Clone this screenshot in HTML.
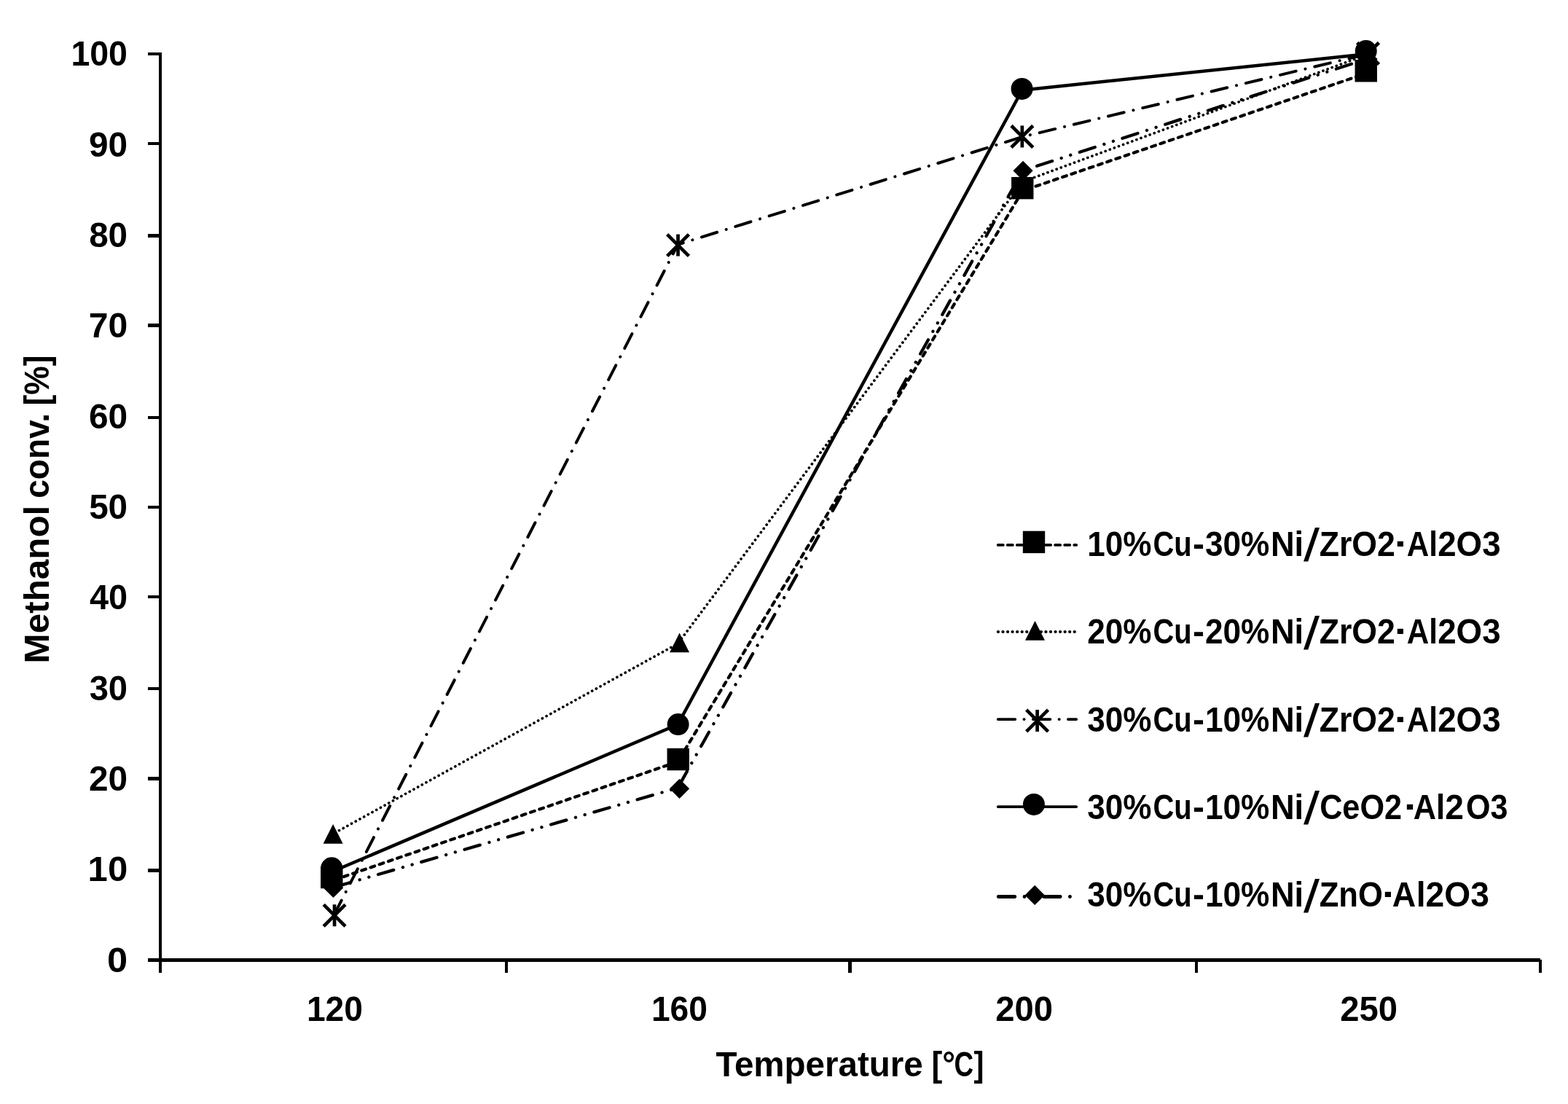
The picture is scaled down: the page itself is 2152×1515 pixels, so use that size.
<!DOCTYPE html>
<html lang="en">
<head>
<meta charset="utf-8">
<title>Methanol conversion vs temperature</title>
<style>
html, body { margin: 0; padding: 0; background: #fff; }
body { width: 2152px; height: 1515px; overflow: hidden; }
svg { display: block; }
text { font-family: "Liberation Sans", sans-serif; font-weight: bold; font-size: 48.0px; fill: #000; }
</style>
</head>
<body>
<svg xmlns="http://www.w3.org/2000/svg" width="2152" height="1515" viewBox="0 0 2152 1515">
<rect width="2152" height="1515" fill="#fff"/>

<g id="axes" fill="#000" shape-rendering="crispEdges">
<rect x="218" y="72" width="4" height="1263"/>
<rect x="203" y="1315" width="1911" height="5"/>
<rect x="203" y="72" width="17" height="4"/>
<rect x="203" y="195" width="17" height="4"/>
<rect x="203" y="321" width="17" height="5"/>
<rect x="203" y="444" width="17" height="5"/>
<rect x="203" y="571" width="17" height="4"/>
<rect x="203" y="694" width="17" height="4"/>
<rect x="203" y="817" width="17" height="4"/>
<rect x="203" y="943" width="17" height="4"/>
<rect x="203" y="1066" width="17" height="5"/>
<rect x="203" y="1192" width="17" height="5"/>
<rect x="693" y="1317" width="4" height="18"/>
<rect x="1164" y="1317" width="5" height="18"/>
<rect x="1640" y="1317" width="4" height="18"/>
<rect x="2112" y="1317" width="4" height="18"/>
</g>
<g id="ylabels">
<text x="147.08" y="1333.7" textLength="28.10" lengthAdjust="spacingAndGlyphs">0</text>
<text x="120.64" y="1209.4" textLength="54.54" lengthAdjust="spacingAndGlyphs">10</text>
<text x="122.03" y="1085.0" textLength="53.09" lengthAdjust="spacingAndGlyphs">20</text>
<text x="122.64" y="960.7" textLength="52.46" lengthAdjust="spacingAndGlyphs">30</text>
<text x="123.00" y="836.3" textLength="52.09" lengthAdjust="spacingAndGlyphs">40</text>
<text x="122.15" y="712.0" textLength="52.96" lengthAdjust="spacingAndGlyphs">50</text>
<text x="121.91" y="587.6" textLength="53.22" lengthAdjust="spacingAndGlyphs">60</text>
<text x="121.66" y="463.2" textLength="53.48" lengthAdjust="spacingAndGlyphs">70</text>
<text x="122.15" y="338.9" textLength="52.96" lengthAdjust="spacingAndGlyphs">80</text>
<text x="122.03" y="214.5" textLength="53.09" lengthAdjust="spacingAndGlyphs">90</text>
<text x="97.39" y="90.2" textLength="77.62" lengthAdjust="spacingAndGlyphs">100</text>
</g>
<g id="xlabels">
<text x="420.91" y="1401.2" textLength="77.03" lengthAdjust="spacingAndGlyphs">120</text>
<text x="893.91" y="1401.2" textLength="77.03" lengthAdjust="spacingAndGlyphs">160</text>
<text x="1366.25" y="1401.2" textLength="78.74" lengthAdjust="spacingAndGlyphs">200</text>
<text x="1839.25" y="1401.2" textLength="78.74" lengthAdjust="spacingAndGlyphs">250</text>
</g>
<text id="xtitle" y="1477.3"><tspan x="982.41" textLength="284.29" lengthAdjust="spacingAndGlyphs">Temperature</tspan> <tspan x="1278.46" textLength="32.55" lengthAdjust="spacingAndGlyphs">[°</tspan><tspan x="1309.53" textLength="26.57" lengthAdjust="spacingAndGlyphs">C</tspan><tspan x="1336.48" textLength="13.95" lengthAdjust="spacingAndGlyphs">]</tspan></text>
<text id="ytitle" transform="translate(67.4 907.1) rotate(-90)" y="0"><tspan x="-3.33" textLength="216.75" lengthAdjust="spacingAndGlyphs">Methanol</tspan> <tspan x="223.26" textLength="116.96" lengthAdjust="spacingAndGlyphs">conv.</tspan> <tspan x="350.66" textLength="68.99" lengthAdjust="spacingAndGlyphs">[%]</tspan></text>
<g id="lines" fill="none" stroke="#000" stroke-linejoin="round" stroke-linecap="round">
<polyline points="459.75,1207.20 930.25,1045.20 1403.75,261.70 1877.25,99.90" stroke-width="4.2" stroke-dasharray="5.90 7.00"/>
<polyline points="459.75,1142.80 930.25,883.30 1403.75,249.30 1877.25,74.50" stroke-width="3.7" stroke-dasharray="0.10 6.40"/>
<polyline points="458.55,1255.30 930.25,335.60 1403.75,187.60 1877.25,74.00" stroke-width="4.0" stroke-dasharray="22.20 13.12 0.10 13.12"/>
<polyline points="459.75,1194.50 930.25,994.20 1402.75,123.70 1877.25,74.00" stroke-width="4.5"/>
<polyline points="459.75,1217.10 930.25,1081.20 1403.75,234.10 1877.25,80.50" stroke-width="4.3" stroke-dasharray="22.10 13.13 0.10 13.13 0.10 13.13"/>
</g>
<g id="markers" fill="#000">
<rect x="440.05" y="1188.79" width="30.4" height="30.4"/>
<rect x="915.55" y="1026.83" width="30.4" height="30.4"/>
<rect x="1388.05" y="242.93" width="30.4" height="30.4"/>
<rect x="1859.55" y="82.07" width="30.4" height="30.4"/>
<polygon points="457.10,1131.01 470.60,1157.81 443.60,1157.81"/>
<polygon points="932.60,868.38 946.10,895.17 919.10,895.17"/>
<polygon points="1404.60,235.69 1418.10,262.49 1391.10,262.49"/>
<polygon points="1876.60,61.60 1890.10,88.40 1863.10,88.40"/>
<g stroke="#000" stroke-width="4.7" fill="none"><line x1="444.15" y1="1241.33" x2="473.95" y2="1271.13"/><line x1="444.15" y1="1271.13" x2="473.95" y2="1241.33"/><line x1="459.05" y1="1241.23" x2="459.05" y2="1271.23"/></g>
<g stroke="#000" stroke-width="4.7" fill="none"><line x1="915.65" y1="321.63" x2="945.45" y2="351.43"/><line x1="915.65" y1="351.43" x2="945.45" y2="321.63"/><line x1="930.55" y1="321.53" x2="930.55" y2="351.53"/></g>
<g stroke="#000" stroke-width="4.7" fill="none"><line x1="1387.95" y1="172.51" x2="1417.75" y2="202.31"/><line x1="1387.95" y1="202.31" x2="1417.75" y2="172.51"/><line x1="1402.85" y1="172.41" x2="1402.85" y2="202.41"/></g>
<g stroke="#000" stroke-width="4.7" fill="none"><line x1="1862.65" y1="58.50" x2="1892.45" y2="88.30"/><line x1="1862.65" y1="88.30" x2="1892.45" y2="58.50"/><line x1="1877.55" y1="58.40" x2="1877.55" y2="88.40"/></g>
<circle cx="455.25" cy="1191.35" r="15"/>
<circle cx="930.65" cy="994.09" r="15"/>
<circle cx="1402.55" cy="121.94" r="15"/>
<circle cx="1874.75" cy="70.00" r="15"/>
<polygon points="457.45,1204.92 471.05,1218.52 457.45,1232.12 443.85,1218.52"/>
<polygon points="932.55,1068.74 946.15,1082.34 932.55,1095.93 918.95,1082.34"/>
<polygon points="1404.05,220.75 1417.65,234.35 1404.05,247.95 1390.45,234.35"/>
<polygon points="1876.95,67.36 1890.55,80.96 1876.95,94.56 1863.35,80.96"/>
</g>
<g id="legend" fill="#000">
<line x1="1369.75" y1="747.9" x2="1477.15" y2="747.9" stroke="#000" stroke-linecap="round" stroke-width="3.9" stroke-dasharray="7.00 6.07"/>
<rect x="1403.80" y="728.70" width="30.4" height="30.4"/>
<text y="762.9"><tspan x="1492.14" y="762.9" textLength="88.33" lengthAdjust="spacingAndGlyphs">10%</tspan><tspan x="1582.50" y="762.9" textLength="53.21" lengthAdjust="spacingAndGlyphs">Cu</tspan><tspan x="1637.08" y="762.9" textLength="15.96" lengthAdjust="spacingAndGlyphs">-</tspan><tspan x="1653.91" y="762.9" textLength="88.47" lengthAdjust="spacingAndGlyphs">30%</tspan><tspan x="1743.95" y="762.9" textLength="45.22" lengthAdjust="spacingAndGlyphs">Ni</tspan><tspan x="1789.00" y="770.4" font-size="62.7" font-weight="normal" textLength="22.03" lengthAdjust="spacingAndGlyphs">/</tspan><tspan x="1810.66" y="762.9" textLength="104.30" lengthAdjust="spacingAndGlyphs">ZrO2</tspan><tspan x="1913.80" y="762.9" textLength="19.50" lengthAdjust="spacingAndGlyphs">·</tspan><tspan x="1930.84" y="762.9" textLength="42.21" lengthAdjust="spacingAndGlyphs">Al</tspan><tspan x="1973.20" y="762.9" textLength="86.41" lengthAdjust="spacingAndGlyphs">2O3</tspan></text>
<line x1="1369.85" y1="867.0" x2="1477.05" y2="867.0" stroke="#000" stroke-linecap="round" stroke-width="4.1" stroke-dasharray="0.20 6.35"/>
<polygon points="1420.50,852.00 1434.00,878.80 1407.00,878.80"/>
<text y="883.2"><tspan x="1492.14" y="883.2" textLength="88.33" lengthAdjust="spacingAndGlyphs">20%</tspan><tspan x="1582.50" y="883.2" textLength="53.21" lengthAdjust="spacingAndGlyphs">Cu</tspan><tspan x="1637.08" y="883.2" textLength="15.96" lengthAdjust="spacingAndGlyphs">-</tspan><tspan x="1653.91" y="883.2" textLength="88.47" lengthAdjust="spacingAndGlyphs">20%</tspan><tspan x="1743.95" y="883.2" textLength="45.22" lengthAdjust="spacingAndGlyphs">Ni</tspan><tspan x="1789.00" y="890.7" font-size="62.7" font-weight="normal" textLength="22.03" lengthAdjust="spacingAndGlyphs">/</tspan><tspan x="1810.66" y="883.2" textLength="104.30" lengthAdjust="spacingAndGlyphs">ZrO2</tspan><tspan x="1913.80" y="883.2" textLength="19.50" lengthAdjust="spacingAndGlyphs">·</tspan><tspan x="1930.84" y="883.2" textLength="42.21" lengthAdjust="spacingAndGlyphs">Al</tspan><tspan x="1973.20" y="883.2" textLength="86.41" lengthAdjust="spacingAndGlyphs">2O3</tspan></text>
<line x1="1369.75" y1="987.1" x2="1477.15" y2="987.1" stroke="#000" stroke-linecap="round" stroke-width="3.9" stroke-dasharray="23.50 12.20 0.20 12.20"/>
<g stroke="#000" stroke-width="4.7" fill="none"><line x1="1408.70" y1="974.10" x2="1438.50" y2="1003.90"/><line x1="1408.70" y1="1003.90" x2="1438.50" y2="974.10"/><line x1="1423.60" y1="974.00" x2="1423.60" y2="1004.00"/></g>
<text y="1003.5"><tspan x="1492.14" y="1003.5" textLength="88.33" lengthAdjust="spacingAndGlyphs">30%</tspan><tspan x="1582.50" y="1003.5" textLength="53.21" lengthAdjust="spacingAndGlyphs">Cu</tspan><tspan x="1637.08" y="1003.5" textLength="15.96" lengthAdjust="spacingAndGlyphs">-</tspan><tspan x="1653.91" y="1003.5" textLength="88.47" lengthAdjust="spacingAndGlyphs">10%</tspan><tspan x="1743.95" y="1003.5" textLength="45.22" lengthAdjust="spacingAndGlyphs">Ni</tspan><tspan x="1789.00" y="1011.0" font-size="62.7" font-weight="normal" textLength="22.03" lengthAdjust="spacingAndGlyphs">/</tspan><tspan x="1810.66" y="1003.5" textLength="104.30" lengthAdjust="spacingAndGlyphs">ZrO2</tspan><tspan x="1913.80" y="1003.5" textLength="19.50" lengthAdjust="spacingAndGlyphs">·</tspan><tspan x="1930.84" y="1003.5" textLength="42.21" lengthAdjust="spacingAndGlyphs">Al</tspan><tspan x="1973.20" y="1003.5" textLength="86.41" lengthAdjust="spacingAndGlyphs">2O3</tspan></text>
<line x1="1369.75" y1="1107.1" x2="1477.15" y2="1107.1" stroke="#000" stroke-linecap="round" stroke-width="3.9"/>
<circle cx="1418.90" cy="1103.90" r="15"/>
<text y="1123.8"><tspan x="1492.14" y="1123.8" textLength="88.33" lengthAdjust="spacingAndGlyphs">30%</tspan><tspan x="1582.50" y="1123.8" textLength="53.21" lengthAdjust="spacingAndGlyphs">Cu</tspan><tspan x="1637.08" y="1123.8" textLength="15.96" lengthAdjust="spacingAndGlyphs">-</tspan><tspan x="1653.91" y="1123.8" textLength="88.47" lengthAdjust="spacingAndGlyphs">10%</tspan><tspan x="1743.95" y="1123.8" textLength="45.22" lengthAdjust="spacingAndGlyphs">Ni</tspan><tspan x="1789.00" y="1131.3" font-size="62.7" font-weight="normal" textLength="22.03" lengthAdjust="spacingAndGlyphs">/</tspan><tspan x="1811.17" y="1123.8" textLength="112.86" lengthAdjust="spacingAndGlyphs">CeO2</tspan><tspan x="1926.65" y="1123.8" textLength="19.74" lengthAdjust="spacingAndGlyphs">·</tspan><tspan x="1939.71" y="1123.8" textLength="43.43" lengthAdjust="spacingAndGlyphs">Al</tspan><tspan x="1983.18" y="1123.8" textLength="25.72" lengthAdjust="spacingAndGlyphs">2</tspan><tspan x="2012.08" y="1123.8" textLength="57.50" lengthAdjust="spacingAndGlyphs">O3</tspan></text>
<line x1="1370.25" y1="1230.5" x2="1476.65" y2="1230.5" stroke="#000" stroke-linecap="round" stroke-width="4.9" stroke-dasharray="22.50 13.23 0.10 13.23 0.10 13.23"/>
<polygon points="1420.20,1214.80 1433.80,1228.40 1420.20,1242.00 1406.60,1228.40"/>
<text y="1244.1"><tspan x="1492.14" y="1244.1" textLength="88.33" lengthAdjust="spacingAndGlyphs">30%</tspan><tspan x="1582.50" y="1244.1" textLength="53.21" lengthAdjust="spacingAndGlyphs">Cu</tspan><tspan x="1637.08" y="1244.1" textLength="15.96" lengthAdjust="spacingAndGlyphs">-</tspan><tspan x="1653.91" y="1244.1" textLength="88.47" lengthAdjust="spacingAndGlyphs">10%</tspan><tspan x="1743.95" y="1244.1" textLength="45.22" lengthAdjust="spacingAndGlyphs">Ni</tspan><tspan x="1789.00" y="1251.6" font-size="62.7" font-weight="normal" textLength="22.03" lengthAdjust="spacingAndGlyphs">/</tspan><tspan x="1810.69" y="1244.1" textLength="87.14" lengthAdjust="spacingAndGlyphs">ZnO</tspan><tspan x="1896.80" y="1244.1" textLength="19.50" lengthAdjust="spacingAndGlyphs">·</tspan><tspan x="1910.78" y="1244.1" textLength="32.44" lengthAdjust="spacingAndGlyphs">A</tspan><tspan x="1943.77" y="1244.1" textLength="100.07" lengthAdjust="spacingAndGlyphs">l2O3</tspan></text>
</g>
</svg>
</body>
</html>
